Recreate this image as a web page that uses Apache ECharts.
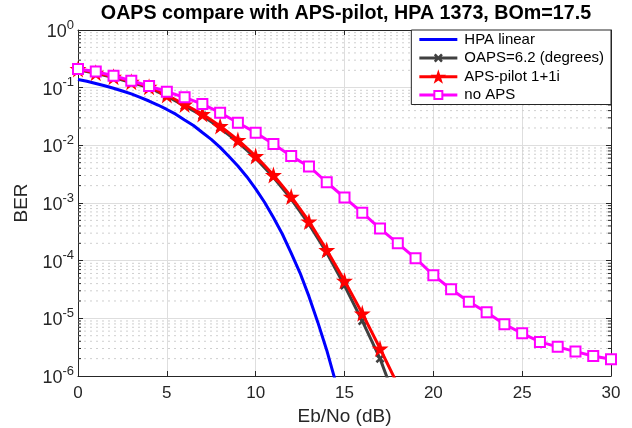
<!DOCTYPE html>
<html>
<head>
<meta charset="utf-8">
<script src="https://cdn.jsdelivr.net/npm/echarts@6/dist/echarts.min.js"></script>
<style>
html,body{margin:0;padding:0;background:#fff;}
#chart{width:632px;height:428px;}
</style>
</head>
<body>
<div id="chart"></div>
<script>
// ---- data ----
var titleText = 'OAPS compare with APS-pilot, HPA 1373, BOm=17.5';
var xName = 'Eb/No (dB)';
var yName = 'BER';
var seriesNames = ['HPA linear', 'OAPS=6.2 (degrees)', 'APS-pilot 1+1i', 'no APS'];

var ebnoLinear = [0,0.5,1,1.5,2,2.5,3,3.5,4,4.5,5,5.5,6,6.5,7,7.5,8,8.5,9,9.5,10,10.5,11,11.5,12,12.5,13,13.5,14,14.5];
var berLinear = [0.139,0.129,0.118,0.108,0.0976,0.0874,0.0779,0.0678,0.0587,0.050,0.0419,0.0347,0.0276,0.0221,0.0167,0.0127,0.0092,0.0064,0.00437,0.00286,0.00176,0.00103,5.6e-4,2.9e-4,1.35e-4,6.1e-5,2.4e-5,8.5e-6,2.8e-6,7.9e-7];

var ebnoPilot = [0,1,2,3,4,5,6,7,8,9,10,11,12,13,14,15,16,17,18];
var berOaps = [0.205,0.177,0.15,0.123,0.1,0.071,0.048,0.0328,0.02,0.0114,0.006,0.0028,0.00117,4.3e-4,1.37e-4,3.7e-5,9.0e-6,2.0e-6,3.0e-7];
var berPilot = [0.211,0.182,0.155,0.127,0.104,0.0746,0.051,0.0349,0.0216,0.0124,0.00653,0.00306,0.00129,4.8e-4,1.53e-4,4.5e-5,1.22e-5,3.0e-6,7.0e-7];

var ebnoNoAps = [0,1,2,3,4,5,6,7,8,9,10,11,12,13,14,15,16,17,18,19,20,21,22,23,24,25,26,27,28,29,30];
var berNoAps = [0.211,0.19,0.161,0.132,0.107,0.085,0.068,0.052,0.0368,0.0247,0.0166,0.01055,0.0065,0.0043,0.00229,0.00124,6.8e-4,3.6e-4,2.0e-4,1.1e-4,5.6e-5,3.2e-5,1.94e-5,1.27e-5,7.9e-6,5.5e-6,3.9e-6,3.2e-6,2.65e-6,2.22e-6,1.95e-6];

var xMin = 0, xMax = 30, xStep = 5;
var yMinExp = -6, yMaxExp = 0;

// ---- helpers ----
function pairs(xs, ys) { return xs.map(function (x, i) { return [x, ys[i]]; }); }
var minorVals = [];
for (var e = yMinExp; e < yMaxExp; e++) {
  for (var m = 2; m <= 9; m++) minorVals.push([xMin, m * Math.pow(10, e)]);
}
var starPath = 'path://M50,0 L61,35 L98,35 L68,57 L79,91 L50,70 L21,91 L32,57 L2,35 L39,35 Z';
var crossPath = 'path://M0,2 L2,0 L5,3 L8,0 L10,2 L7,5 L10,8 L8,10 L5,7 L2,10 L0,8 L3,5 Z';
// legend icons: line sample + marker
var iconLine = 'path://M0,6 L38,6 L38,9 L0,9 Z';
var iconCross = 'path://M0,6 L38,6 L38,9 L0,9 Z M14.5,4.8 L16.3,3 L19,5.7 L21.7,3 L23.5,4.8 L20.8,7.5 L23.5,10.2 L21.7,12 L19,9.3 L16.3,12 L14.5,10.2 L17.2,7.5 Z';
var iconStar = 'path://M0,6 L38,6 L38,9 L0,9 Z M19,0 L20.76,5.6 L26.68,5.6 L21.88,9.12 L23.64,14.56 L19,11.2 L14.36,14.56 L16.12,9.12 L11.32,5.6 L17.24,5.6 Z';
var iconSquare = 'path://M0,6 L14,6 L14,9 L0,9 Z M24,6 L38,6 L38,9 L24,9 Z M14,2.5 L24,2.5 L24,12.5 L14,12.5 Z M16,4.5 L16,10.5 L22,10.5 L22,4.5 Z';
var txt = '#262626';
var fontFam = '"Liberation Sans", Arial, Helvetica, sans-serif';

var chart = echarts.init(document.getElementById('chart'), null, {renderer: 'canvas'});
var option = {
  animation: false,
  backgroundColor: '#fff',
  textStyle: {fontFamily: fontFam},
  title: {
    text: titleText,
    left: 346,
    textAlign: 'center',
    top: 4,
    padding: 0,
    textStyle: {fontFamily: fontFam, fontWeight: 'bold', fontSize: 19.7, color: '#000'}
  },
  grid: {left: 78, right: 21, top: 30, bottom: 52, outerBoundsMode: 'none', containLabel: false},
  legend: {
    data: [
      {name: seriesNames[0], icon: iconLine},
      {name: seriesNames[1], icon: iconCross},
      {name: seriesNames[2], icon: iconStar},
      {name: seriesNames[3], icon: iconSquare}
    ],
    orient: 'vertical',
    right: 21,
    top: 30,
    backgroundColor: '#fff',
    borderColor: txt,
    borderWidth: 1,
    borderRadius: 0,
    padding: [2, 7, 2, 8],
    itemGap: 3.5,
    itemWidth: 38,
    itemHeight: 16,
    symbolKeepAspect: true,
    textStyle: {fontFamily: fontFam, fontSize: 15, color: '#000', padding: [0, 0, 0, 2]},
    z: 20
  },
  xAxis: [{
    type: 'value', min: xMin, max: xMax, interval: xStep,
    name: xName, nameLocation: 'middle', nameGap: 26,
    nameTextStyle: {fontFamily: fontFam, fontSize: 19, color: txt},
    axisLine: {show: true, onZero: false, lineStyle: {color: txt, width: 1}},
    axisTick: {show: true, inside: true, length: 5, lineStyle: {color: txt}},
    axisLabel: {fontFamily: fontFam, fontSize: 17, color: txt, margin: 9},
    splitLine: {show: true, lineStyle: {color: '#dedede', width: 1}}
  }, {
    type: 'value', min: xMin, max: xMax, interval: xStep, position: 'top',
    axisLine: {show: true, onZero: false, lineStyle: {color: txt, width: 1}},
    axisTick: {show: true, inside: true, length: 5, lineStyle: {color: txt}},
    axisLabel: {show: false}, splitLine: {show: false}
  }],
  yAxis: [{
    type: 'log', logBase: 10, min: Math.pow(10, yMinExp), max: Math.pow(10, yMaxExp), interval: 1,
    name: yName, nameLocation: 'middle', nameGap: 45, nameRotate: 90,
    nameTextStyle: {fontFamily: fontFam, fontSize: 19, color: txt},
    axisLine: {show: true, onZero: false, lineStyle: {color: txt, width: 1}},
    axisTick: {show: true, inside: true, length: 5, lineStyle: {color: txt}},
    minorTick: {show: false},
    axisLabel: {
      margin: 4,
      formatter: function (v) {
        var ex = Math.round(Math.log10(v));
        return '{b|10}{e|' + ex + '}';
      },
      rich: {
        b: {fontFamily: fontFam, fontSize: 18, color: txt, padding: [4, 0, 0, 0]},
        e: {fontFamily: fontFam, fontSize: 13, color: txt, padding: [0, 0, 10, 0]}
      }
    },
    splitLine: {show: true, lineStyle: {color: '#dedede', width: 1}}
  }, {
    type: 'log', logBase: 10, min: Math.pow(10, yMinExp), max: Math.pow(10, yMaxExp), interval: 1, position: 'right',
    axisLine: {show: true, onZero: false, lineStyle: {color: txt, width: 1}},
    axisTick: {show: true, inside: true, length: 5, lineStyle: {color: txt}},
    axisLabel: {show: false}, splitLine: {show: false}
  }],
  series: [{
    type: 'custom',
    name: 'minor',
    silent: true,
    z: 1,
    encode: {x: 0, y: 1},
    data: minorVals,
    renderItem: function (params, api) {
      var v = api.value(1);
      var p0 = api.coord([xMin, v]);
      var p1 = api.coord([xMax, v]);
      return {
        type: 'group',
        children: [
          {type: 'line', shape: {x1: p0[0], y1: p0[1], x2: p1[0], y2: p1[1]},
           style: {stroke: '#cfcfcf', lineWidth: 1, lineDash: [2, 4]}},
          {type: 'line', shape: {x1: p0[0], y1: p0[1], x2: p0[0] + 3, y2: p0[1]},
           style: {stroke: txt, lineWidth: 1}},
          {type: 'line', shape: {x1: p1[0] - 3, y1: p1[1], x2: p1[0], y2: p1[1]},
           style: {stroke: txt, lineWidth: 1}}
        ]
      };
    }
  }, {
    type: 'line', name: seriesNames[0], z: 3,
    data: pairs(ebnoLinear, berLinear),
    symbol: 'none', clip: true,
    lineStyle: {color: '#0000ff', width: 3},
    itemStyle: {color: '#0000ff'}
  }, {
    type: 'line', name: seriesNames[1], z: 4,
    data: pairs(ebnoPilot, berOaps),
    symbol: crossPath, symbolSize: 9, showAllSymbol: true, clip: true,
    lineStyle: {color: '#404040', width: 3},
    itemStyle: {color: '#404040', borderWidth: 0}
  }, {
    type: 'line', name: seriesNames[2], z: 5,
    data: pairs(ebnoPilot, berPilot),
    symbol: starPath, symbolSize: 17, showAllSymbol: true, clip: true,
    lineStyle: {color: '#ff0000', width: 3},
    itemStyle: {color: '#ff0000', borderWidth: 0}
  }, {
    type: 'line', name: seriesNames[3], z: 6,
    data: pairs(ebnoNoAps, berNoAps),
    symbol: 'emptyRect', symbolSize: 10, showAllSymbol: true, clip: true,
    lineStyle: {color: '#ff00ff', width: 3},
    itemStyle: {color: '#ff00ff', borderWidth: 2}
  }]
};
chart.setOption(option);
</script>
</body>
</html>
